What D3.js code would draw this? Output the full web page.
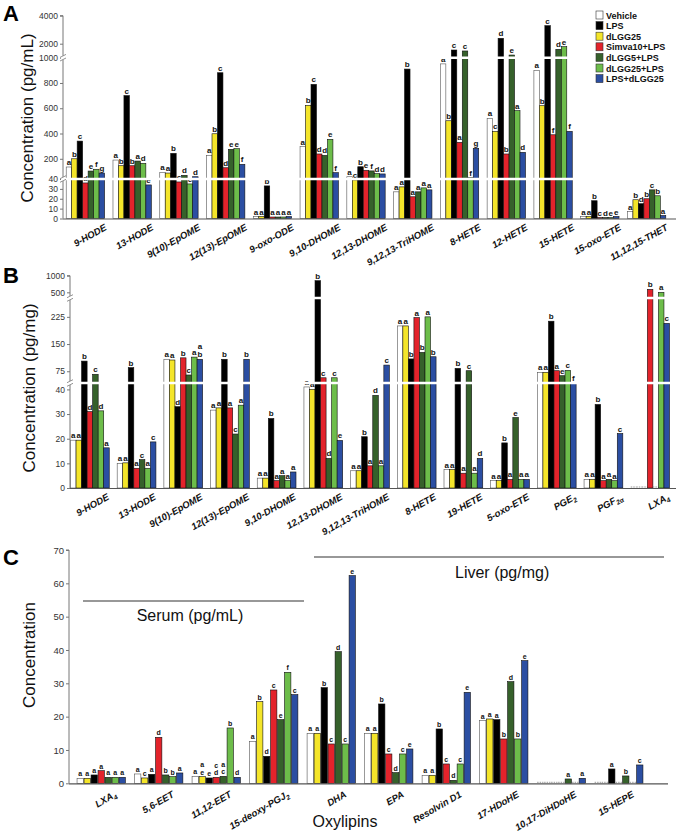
<!DOCTYPE html>
<html><head><meta charset="utf-8">
<script src="https://cdn.jsdelivr.net/npm/d3@7"></script>
<style>body{margin:0;background:#fff}svg{display:block}text{font-family:"Liberation Sans",Arial,Helvetica,sans-serif}</style>
</head><body><svg id="chart" width="685" height="834"></svg>
<script>
// ---------- shared ----------
const seriesNames = ["Vehicle","dLGG25","LPS","Simva10+LPS","dLGG5+LPS","dLGG25+LPS","LPS+dLGG25"];
const seriesColors = ["#ffffff","#f4e52a","#000000","#e3232b","#36612b","#6dbd4a","#2b4ea2"];
const legendOrder = ["Vehicle","LPS","dLGG25","Simva10+LPS","dLGG5+LPS","dLGG25+LPS","LPS+dLGG25"];

// ---------- panel A (serum, pg/mL) ----------
const aCategories = ["9-HODE","13-HODE","9(10)-EpOME","12(13)-EpOME","9-oxo-ODE","9,10-DHOME","12,13-DHOME","9,12,13-TriHOME","8-HETE","12-HETE","15-HETE","15-oxo-ETE","11,12,15-THET"];
const aVehicle   = [135,190,93,227,2,297,58,27,951,520,900,2,7];
const aDLGG25    = [200,145,87,398,2,623,39,32,501,417,620,2,19];
const aLPS       = [340,700,243,881,33,789,137,910,1550,2386,3286,18,15];
const aSimva     = [36,145,37,129,1.5,238,109,22,330,238,390,1,20];
const aDLGG5LPS  = [103,182,69,275,1.5,227,104,27,1480,1190,1600,1,29];
const aDLGG25LPS = [117,164,35,280,1.5,354,83,31,50,581,1786,1,23];
const aLPSDLGG25 = [87,34,58,156,2,90,80,29,283,251,417,2,3];
const aLetters = ["a b c d e f g","a b c b a d e","a a b c d c d","a b c d e e f","a a b a a a a","a b c d d e f","a c b e f d d","a a b a a a a","a b c a c f g","a c d b e a d","a b c f d e f","a a b c d e e","a b d b c b a"];
const aTicks = [0,10,20,30,40,200,400,600,800,1000,2000,4000];
const aBreaks = [40,1000];

// ---------- panel B (liver, pg/mg) ----------
const bCategories = ["9-HODE","13-HODE","9(10)-EpOME","12(13)-EpOME","9,10-DHOME","12,13-DHOME","9,12,13-TriHOME","8-HETE","19-HETE","5-oxo-ETE","PGE_2","PGF_2α","LXA_4"];
const bVehicle   = [19.4,10,108,31.6,4,41,7,200,7.5,3,72,3.5,null];
const bDLGG25    = [19.4,10.2,106,32.5,4,40,7,200,7.5,3,72,3.5,null];
const bLPS       = [103,85,33,108,28.2,850,20.8,109,83,18.3,213,33.9,null];
const bSimva     = [31,8,112,32.5,3,57,9,223,6,3.5,76.5,3,590];
const bDLGG5LPS  = [66.6,11.5,64.7,21.9,5,12,37.6,127,76.5,28.6,62.7,3.5,null];
const bDLGG25LPS = [31.3,8,114,33.6,3,57,9,225,6,3.5,77.6,3,500];
const bLPSDLGG25 = [16.3,18.7,108,108,6.5,19.3,92,115,12,3.5,43,22.1,207];
const bLetters = ["a a b d c d a","a a b a c a c","a a d b c a ab","a a b a c a b","a a b a a a a","a a b c d c e","a a b a d a c","a a b a b a b","a a b a c a d","a a b a e a a","a a b a e c f","a a b a a a c","- - - b - a c"];
const bTicks = [0,10,20,30,40,75,150,225,500,1000];
const bBreaks = [42.6,300];

// ---------- panel C (serum pg/mL & liver pg/mg) ----------
const cCategories = ["LXA_4","5,6-EET","11,12-EET","15-deoxy-PGJ_2","DHA","EPA","Resolvin D1","17-HDoHE","10,17-DiHDoHE","15-HEPE"];
const cVehicle   = [1.5,2.8,2.1,12.6,15,15,2.4,18.8,null,null];
const cDLGG25    = [1.5,1.6,2.0,24.5,15,15,2.4,19.3,null,null];
const cLPS       = [2.5,2.7,1.6,8.1,28.7,23.8,16.3,19.1,null,4.3];
const cSimva     = [3.8,13.8,1.8,28,11.8,8.8,5.8,13.3,null,null];
const cDLGG5LPS  = [1.8,2.5,2.1,19.1,39.5,3.2,0.9,30.5,1.3,2.2];
const cDLGG25LPS = [1.8,2.0,16.6,33.3,11.8,8.8,5.8,13.3,null,null];
const cLPSDLGG25 = [1.8,3.1,1.8,26.6,62.3,10.3,27.3,36.8,1.5,5.5];
const cLetters = ["a a a a a a a","a c a d b b a","a ae e cd ac b d","a b d c e f c","a a b c d c e","a a b c d c e","a a b c d c e","a a a b d b e","- - - - a - a","- - a - b - c"];
const cTicks = [0,10,20,30,40,50,60,70];

const svg = d3.select("#chart");
const FONT = '"Liberation Sans",Arial,sans-serif';

function addLabel(sel, label, size) {
  const parts = label.split("_");
  sel.append("tspan").text(parts[0]);
  if (parts.length > 1) {
    const m = parts[1].match(/^(\d+α?)(.*)$/);
    sel.append("tspan").attr("font-size", size * 0.7).attr("dy", 2.5).text(m ? m[1] : parts[1]);
    if (m && m[2]) sel.append("tspan").attr("dy", -2.5).text(m[2]);
  }
}

function drawPanel(cfg) {
  const g = svg.append("g");
  const x = d3.scaleBand().domain(cfg.cats).range(cfg.xRange).paddingInner(cfg.padIn).paddingOuter(cfg.padOut).align(cfg.align ?? 0.5);
  const xi = d3.scaleBand().domain(d3.range(7)).range([0, x.bandwidth()]).paddingInner(cfg.barGap);
  const y = cfg.y;
  const base = y(0);
  cfg.cats.forEach((c, ci) => {
    const letters = cfg.letters[ci].split(" ");
    cfg.series.forEach((s, si) => {
      const v = s[ci];
      const bx = x(c) + xi(si), bw = xi.bandwidth();
      if (v === null) {
        g.append("line").attr("x1", bx).attr("x2", bx + bw).attr("y1", base - 1).attr("y2", base - 1)
          .attr("stroke", "#999").attr("stroke-width", 1).attr("stroke-dasharray", "1.5,1");
        return;
      }
      const yt = y(v);
      g.append("rect").attr("x", bx).attr("y", yt).attr("width", bw).attr("height", Math.max(0.5, base - yt))
        .attr("fill", seriesColors[si]).attr("stroke", si === 0 ? "#555" : "#111").attr("stroke-width", 0.6);
      const L = letters[si];
      if (L && L !== "-") {
        L.split("").forEach((ch, k) => {
          g.append("text").attr("x", bx + bw / 2).attr("y", yt - 2 - (L.length - 1 - k) * cfg.stackGap)
            .attr("text-anchor", "middle").attr("font-size", cfg.letterSize).attr("font-weight", "bold").attr("fill", "#111").text(ch);
        });
      }
    });
  });
  // breaks
  (cfg.breaks || []).forEach(b => {
    g.append("line").attr("x1", cfg.axisX + 1).attr("x2", cfg.xEnd).attr("y1", y(b)).attr("y2", y(b))
      .attr("stroke", "#fff").attr("stroke-width", 2.4);
  });
  // y axis
  const ya = d3.axisLeft(y).tickValues(cfg.ticks).tickSize(3).tickPadding(2).tickFormat(d3.format("d"));
  const yg = g.append("g").attr("transform", `translate(${cfg.axisX},0)`).call(ya);
  yg.select(".domain").attr("stroke", "#777").attr("d", `M-3,${y(cfg.ticks[cfg.ticks.length-1])}H0V${base}`);
  yg.selectAll(".tick line").attr("stroke", "#777");
  yg.selectAll(".tick text").attr("font-size", cfg.tickSize).attr("fill", "#333").attr("font-family", FONT);
  (cfg.breaks || []).forEach(b => {
    const yy = y(b);
    yg.append("rect").attr("x", -2).attr("y", yy - 2).attr("width", 4).attr("height", 4).attr("fill", "#fff");
    [-1.8, 1.8].forEach(o => yg.append("line").attr("x1", -3).attr("x2", 3).attr("y1", yy + o + 1.5).attr("y2", yy + o - 1.5).attr("stroke", "#777").attr("stroke-width", 0.8));
  });
  // x axis
  g.append("line").attr("x1", cfg.axisX).attr("x2", cfg.xEnd).attr("y1", base + 0.5).attr("y2", base + 0.5).attr("stroke", "#555").attr("stroke-width", 1.2);
  cfg.cats.forEach(c => {
    const cx = x(c) + x.bandwidth() / 2;
    const t = g.append("text").attr("transform", `translate(${cx + cfg.labDx},${base + cfg.labDy}) rotate(${cfg.labRot})`)
      .attr("text-anchor", "end").attr("font-size", cfg.labSize).attr("font-weight", "bold").attr("font-style", "italic").attr("fill", "#111");
    addLabel(t, c, cfg.labSize);
  });
  // y title
  g.append("text").attr("transform", `translate(${cfg.titleX},${cfg.titleY}) rotate(-90)`).attr("text-anchor", "middle")
    .attr("font-size", 17).attr("fill", "#111").text(cfg.title);
  g.append("text").attr("x", 3).attr("y", cfg.letterY).attr("font-size", 22).attr("font-weight", "bold").text(cfg.panel);
  return {x, y};
}

// Panel A
drawPanel({
  panel: "A", letterY: 21, cats: aCategories,
  series: [aVehicle, aDLGG25, aLPS, aSimva, aDLGG5LPS, aDLGG25LPS, aLPSDLGG25],
  letters: aLetters, ticks: aTicks, breaks: aBreaks,
  y: d3.scaleLinear().domain([0, 40, 1000, 4000]).range([218.5, 179, 57.7, 15.7]),
  xRange: [62, 670], padIn: 0.18, padOut: 0.09, barGap: 0, axisX: 63, xEnd: 676,
  tickSize: 8.5, letterSize: 8, stackGap: 8, labSize: 9.5, labDx: 22, labDy: 11, labRot: -29,
  title: "Concentration (pg/mL)", titleX: 33, titleY: 118
});

// Panel B
drawPanel({
  panel: "B", letterY: 283, cats: bCategories,
  series: [bVehicle, bDLGG25, bLPS, bSimva, bDLGG5LPS, bDLGG25LPS, bLPSDLGG25],
  letters: bLetters, ticks: bTicks, breaks: bBreaks,
  y: d3.scaleLinear().domain([0, 42.6, 277, 330, 1000]).range([488, 383, 298, 298, 275.7]),
  xRange: [70.5, 669.5], padIn: 0.17, padOut: 0, align: 0, barGap: 0, axisX: 70, xEnd: 676,
  tickSize: 8.5, letterSize: 8, stackGap: 8, labSize: 9.5, labDx: 20, labDy: 11, labRot: -29,
  title: "Concentration (pg/mg)", titleX: 35, titleY: 388
});

// Panel C
drawPanel({
  panel: "C", letterY: 565, cats: cCategories,
  series: [cVehicle, cDLGG25, cLPS, cSimva, cDLGG5LPS, cDLGG25LPS, cLPSDLGG25],
  letters: cLetters, ticks: cTicks, breaks: [],
  y: d3.scaleLinear().domain([0, 70]).range([783.3, 550]),
  xRange: [69, 651], padIn: 0.16, padOut: 0.14, barGap: 0.1, axisX: 69, xEnd: 668,
  tickSize: 9.5, letterSize: 7, stackGap: 7.5, labSize: 9.5, labDx: 16, labDy: 13, labRot: -30,
  title: "Concentration", titleX: 35, titleY: 655
});

// C annotations
svg.append("line").attr("x1", 83).attr("x2", 304).attr("y1", 601).attr("y2", 601).attr("stroke", "#333").attr("stroke-width", 1.2);
svg.append("text").attr("x", 190).attr("y", 621).attr("text-anchor", "middle").attr("font-size", 16).attr("fill", "#111").text("Serum (pg/mL)");
svg.append("line").attr("x1", 314).attr("x2", 664).attr("y1", 557).attr("y2", 557).attr("stroke", "#333").attr("stroke-width", 1.2);
svg.append("text").attr("x", 455).attr("y", 578).attr("font-size", 16).attr("fill", "#111").text("Liver (pg/mg)");
svg.append("text").attr("x", 345).attr("y", 827).attr("text-anchor", "middle").attr("font-size", 16).attr("fill", "#111").text("Oxylipins");

// Legend
const lg = svg.append("g").attr("transform", "translate(596,11)");
legendOrder.forEach((name, i) => {
  const si = seriesNames.indexOf(name);
  const row = lg.append("g").attr("transform", `translate(0,${i * 10.6})`);
  row.append("rect").attr("width", 7).attr("height", 8).attr("fill", seriesColors[si]).attr("stroke", "#333").attr("stroke-width", 0.6);
  row.append("text").attr("x", 10).attr("y", 7.5).attr("font-size", 9).attr("font-weight", "bold").attr("fill", "#111").text(name);
});
</script></body></html>
